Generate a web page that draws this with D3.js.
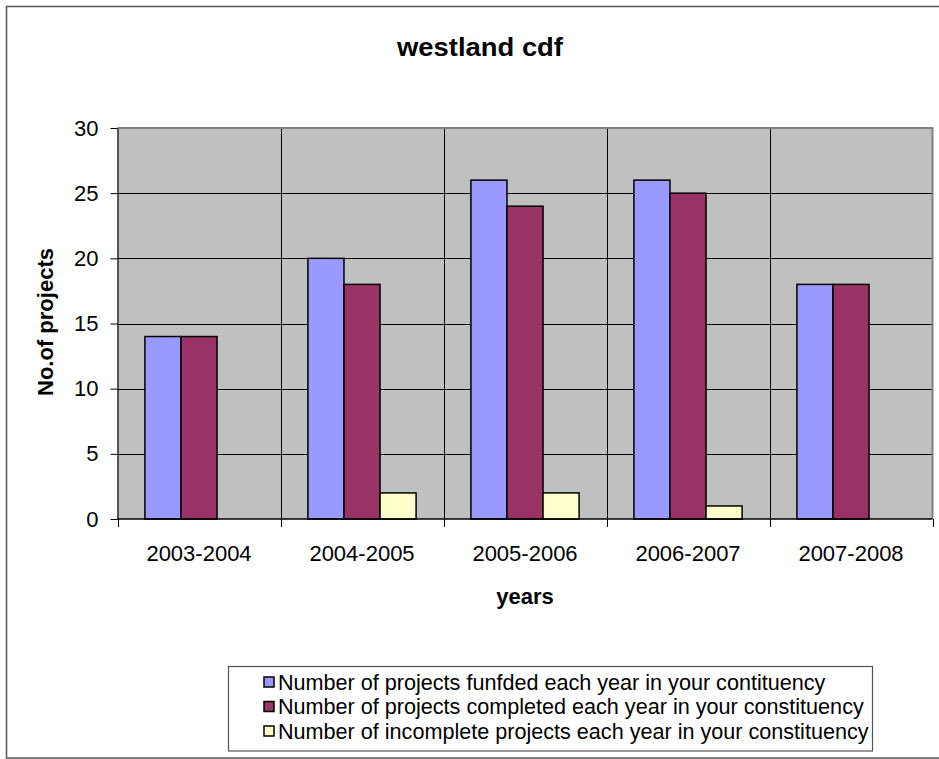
<!DOCTYPE html>
<html>
<head>
<meta charset="utf-8">
<script src="https://cdn.jsdelivr.net/npm/d3@7/dist/d3.min.js"></script>
<style>
  html, body { margin: 0; padding: 0; background: #fff; }
  svg { display: block; font-family: "Liberation Sans", Arial, sans-serif; }
</style>
</head>
<body>
<svg id="chart" width="939" height="759"></svg>
<script>
// Project counts per financial year
const years = ["2003-2004", "2004-2005", "2005-2006", "2006-2007", "2007-2008"];
const funded = [14, 20, 26, 26, 18];
const completed = [14, 18, 24, 25, 18];
const incomplete = [0, 2, 2, 1, 0];
const seriesNames = [
  "Number of projects funfded each year in your contituency",
  "Number of projects completed each year in your constituency",
  "Number of incomplete projects each year in your constituency"
];
const seriesColors = ["#9999ff", "#993366", "#ffffcc"];
const yTicks = [0, 5, 10, 15, 20, 25, 30];

const series = [funded, completed, incomplete];

const svg = d3.select("#chart");

// outer chart frame
svg.append("rect")
  .attr("x", 6.5).attr("y", 6.5)
  .attr("width", 940).attr("height", 751.5)
  .attr("fill", "#fff").attr("stroke", "#555").attr("stroke-width", 1.5);

const plot = { left: 117.5, right: 932.5, top: 128, bottom: 519 };

const x = d3.scaleBand().domain(years).range([plot.left, plot.right]).paddingInner(0).paddingOuter(0);
const inner = d3.scaleBand().domain(d3.range(series.length)).range([0, x.bandwidth()])
  .paddingInner(0).paddingOuter(0.76);
const y = d3.scaleLinear().domain([0, 30]).range([plot.bottom, plot.top]);

// plot background
svg.append("rect")
  .attr("x", plot.left).attr("y", plot.top)
  .attr("width", plot.right - plot.left).attr("height", plot.bottom - plot.top)
  .attr("fill", "#c0c0c0");

// horizontal gridlines
svg.append("g").selectAll("line").data(yTicks.filter(d => d > 0 && d < 30)).join("line")
  .attr("x1", plot.left).attr("x2", plot.right)
  .attr("y1", d => Math.round(y(d)) + 0.5).attr("y2", d => Math.round(y(d)) + 0.5)
  .attr("stroke", "#000").attr("stroke-width", 1);

// vertical gridlines at category boundaries
svg.append("g").selectAll("line").data(years.slice(1)).join("line")
  .attr("x1", d => Math.round(x(d)) + 0.5).attr("x2", d => Math.round(x(d)) + 0.5)
  .attr("y1", plot.top).attr("y2", plot.bottom)
  .attr("stroke", "#000").attr("stroke-width", 1);

// plot frame (top and right in grey)
svg.append("path")
  .attr("d", `M${plot.left},${plot.top}H${plot.right}V${plot.bottom}`)
  .attr("fill", "none").attr("stroke", "#808080").attr("stroke-width", 2);

// bars
series.forEach((vals, si) => {
  svg.append("g").selectAll("rect").data(vals.map((v, i) => ({ v, cat: years[i] })).filter(d => d.v > 0))
    .join("rect")
    .attr("x", d => x(d.cat) + inner(si))
    .attr("y", d => y(d.v))
    .attr("width", inner.bandwidth())
    .attr("height", d => y(0) - y(d.v))
    .attr("fill", seriesColors[si])
    .attr("stroke", "#000").attr("stroke-width", 1.5);
});

// y axis
const yAxis = d3.axisLeft(y).tickValues(yTicks).tickSize(7).tickPadding(12).tickSizeOuter(0);
const gy = svg.append("g").attr("transform", `translate(${plot.left},0)`).call(yAxis);
gy.select(".domain").attr("stroke", "#000").attr("stroke-width", 1.2);
gy.selectAll(".tick line").attr("stroke", "#000");
gy.selectAll(".tick text").attr("font-size", 22).attr("fill", "#000")
  .attr("font-family", "Liberation Sans, Arial, sans-serif");

// x axis: tick marks at category boundaries, labels at centres
const gx = svg.append("g").attr("transform", `translate(0,${plot.bottom})`);
gx.append("line").attr("x1", plot.left).attr("x2", plot.right).attr("y1", 0).attr("y2", 0)
  .attr("stroke", "#000").attr("stroke-width", 1.5);
const bounds = years.map(d => x(d)).concat([x.range()[1]]);
gx.selectAll("line.tk").data(bounds).join("line").attr("class", "tk")
  .attr("x1", d => Math.round(d) + 0.5).attr("x2", d => Math.round(d) + 0.5)
  .attr("y1", 0).attr("y2", 8).attr("stroke", "#000");
gx.selectAll("text").data(years).join("text")
  .attr("x", d => x(d) + x.bandwidth() / 2).attr("y", 42)
  .attr("text-anchor", "middle").attr("font-size", 22).attr("fill", "#000")
  .text(d => d);

// title and axis titles
svg.append("text").attr("x", 480).attr("y", 56).attr("text-anchor", "middle")
  .attr("font-size", 26).attr("font-weight", "bold")
  .attr("textLength", 166).attr("lengthAdjust", "spacingAndGlyphs").text("westland cdf");
svg.append("text").attr("x", 525).attr("y", 604).attr("text-anchor", "middle")
  .attr("font-size", 22).attr("font-weight", "bold").text("years");
svg.append("text").attr("transform", `translate(53,322) rotate(-90)`).attr("text-anchor", "middle")
  .attr("font-size", 22).attr("font-weight", "bold").text("No.of projects");

// legend
const lg = svg.append("g");
lg.append("rect").attr("x", 228.5).attr("y", 666.5).attr("width", 644).attr("height", 84.5)
  .attr("fill", "#fff").attr("stroke", "#555").attr("stroke-width", 1.2);
seriesNames.forEach((name, i) => {
  const cy = 682 + i * 24.5;
  lg.append("rect").attr("x", 264).attr("y", cy - 5).attr("width", 10).attr("height", 10)
    .attr("fill", seriesColors[i]).attr("stroke", "#000").attr("stroke-width", 1.5);
  lg.append("text").attr("x", 278).attr("y", cy + 7.5).attr("font-size", 21.6)
    .text(name);
});
</script>
</body>
</html>
